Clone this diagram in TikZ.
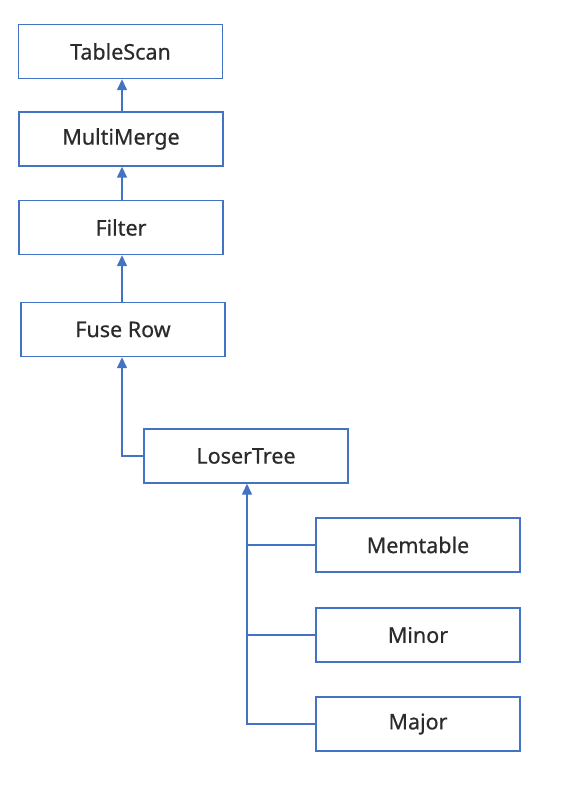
\documentclass[tikz,border=0pt]{standalone}
\usepackage{fontspec}
\setmainfont{Noto Sans}[FakeBold=0.6]
\usetikzlibrary{arrows.meta}
\definecolor{bl}{HTML}{4472C4}
\definecolor{tx}{HTML}{2B2B2B}
\begin{document}
\begin{tikzpicture}[x=1pt,y=-1pt,
  box/.style={draw=bl,line width=1.4pt,minimum width=204pt,minimum height=54pt,inner sep=0pt,text=tx,font=\fontsize{21.5}{24}\selectfont\bfseries},
  arr/.style={draw=bl,line width=1.4pt,-{Triangle[length=11pt,width=10pt]}}]
\useasboundingbox (0,0) rectangle (572,786);
\node[box] (ts) at (120.5,51.5) {TableScan};
\node[box] (mm) at (121,139) {MultiMerge};
\node[box] (fi) at (121,227.5) {Filter};
\node[box] (fr) at (123,329.5) {Fuse Row};
\node[box] (lt) at (246,456) {LoserTree};
\node[box] (me) at (418,545) {Memtable};
\node[box] (mi) at (418,635) {Minor};
\node[box] (ma) at (418,724) {Major};
\draw[arr] (mm.north -| 122,0) -- (ts.south -| 122,0);
\draw[arr] (fi.north -| 122,0) -- (mm.south -| 122,0);
\draw[arr] (fr.north -| 122,0) -- (fi.south -| 122,0);
\draw[arr] (lt.west) -| (fr.south -| 122,0);
\coordinate (j) at (247,724);
\draw[arr] (ma.west) -- (j) -- (lt.south -| j);
\draw[draw=bl,line width=1.4pt] (me.west) -- (me.west -| j);
\draw[draw=bl,line width=1.4pt] (mi.west) -- (mi.west -| j);
\end{tikzpicture}
\end{document}
